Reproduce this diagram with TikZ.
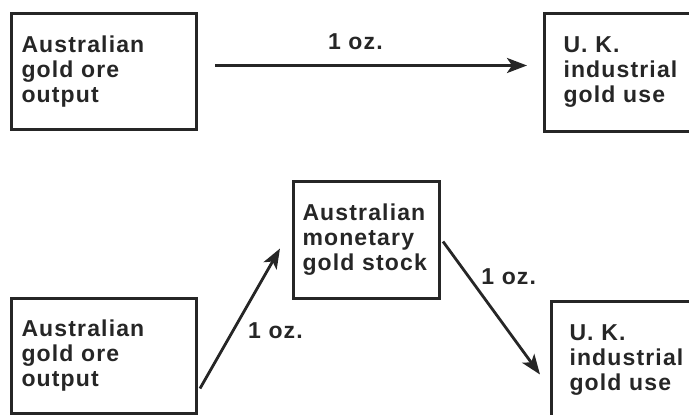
\documentclass[tikz,border=0pt]{standalone}
\usepackage{fontspec}
\setmainfont{Liberation Sans}[LetterSpace=5]
\usepackage{tikz}
\usetikzlibrary{arrows.meta, positioning}
\tikzstyle{flowbox} = [rectangle, draw=black!85, line width=3pt, minimum height=117pt, text width=165pt, inner xsep=10pt, align=left, anchor=north west, text=black!85, font=\bfseries\fontsize{23}{25}\selectfont]
\tikzstyle{ukbox} = [flowbox, text width=150pt, inner xsep=19pt]
\tikzstyle{qty} = [text=black!85, inner sep=2pt, font=\bfseries\fontsize{23}{25}\selectfont]
\tikzstyle{arrow} = [line width=2.8pt, draw=black!85, -{Stealth[length=20pt, width=15pt, inset=5pt]}]

\begin{document}
\begin{tikzpicture}[x=1pt, y=-1pt]
\useasboundingbox (0,0) rectangle (689,415);
\clip (0,0) rectangle (689,415);
% direct shipment
\node (ore1) [flowbox, minimum height=116pt] at (10,12) {Australian\\gold ore\\output};
\node (uk1) [ukbox, minimum height=118pt] at (543,12) {U. K.\\industrial\\gold use};
\draw [arrow] ([xshift=17pt, yshift=6pt]ore1.east) -- node (oz1) [qty, pos=0.45, above=12pt] {1 oz.} ([xshift=-16pt, yshift=7pt]uk1.west);
% shipment via the monetary stock
\node (stock) [flowbox, text width=128pt, inner xsep=9pt] at (292,180) {Australian\\monetary\\gold stock};
\node (ore2) [flowbox, minimum height=115pt] at (10,297) {Australian\\gold ore\\output};
\node (uk2) [ukbox, inner xsep=18pt, minimum height=118pt] at (550,300) {U. K.\\industrial\\gold use};
\draw [arrow] ([xshift=2pt, yshift=-32.5pt]ore2.east) -- node (oz2) [qty, pos=0.36, anchor=base west, xshift=16pt] {1 oz.} ([xshift=-12pt, yshift=-8.5pt]stock.west);
\draw [arrow] ([xshift=2pt, yshift=-1.5pt]stock.east) -- node (oz3) [qty, pos=0.32, anchor=base west, xshift=4pt] {1 oz.} ([xshift=-10pt, yshift=-14pt]uk2.west);
\end{tikzpicture}
\end{document}
